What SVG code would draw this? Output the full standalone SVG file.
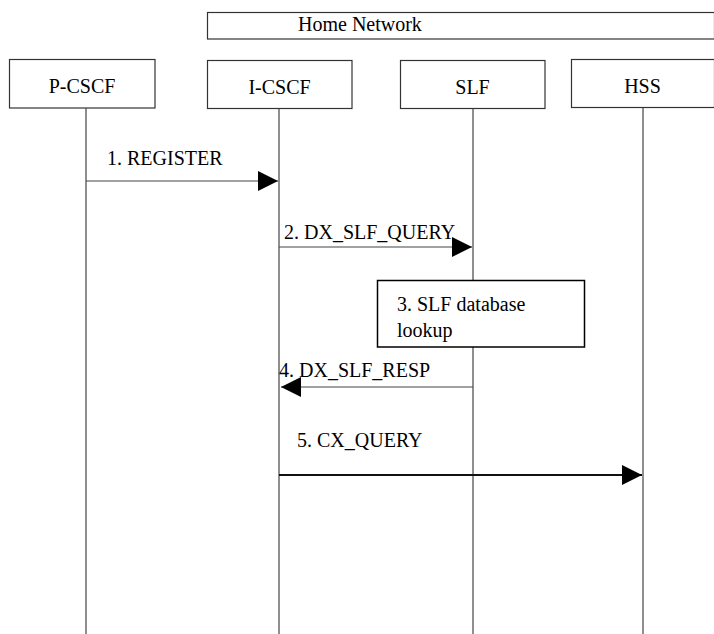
<svg xmlns="http://www.w3.org/2000/svg" width="714" height="634" viewBox="0 0 714 634">
<style>
.box{fill:#fff;stroke:#333;stroke-width:1.2}
.life{stroke:#444;stroke-width:1.2;fill:none}
.msg{stroke:#444;stroke-width:1.2;fill:none}
.msg2{stroke:#111;stroke-width:2;fill:none}
.t{font-family:'Liberation Serif','DejaVu Serif',serif;font-size:20px;fill:#000}
.c{text-anchor:middle}
</style>
<defs>
<marker id="ah" markerUnits="userSpaceOnUse" markerWidth="20" markerHeight="20" refX="20" refY="10" orient="auto">
<path d="M0,0 L20,10 L0,20 Z" fill="#000"/>
</marker>
</defs>
<rect width="714" height="634" fill="#fff"/>
<g id="home-network">
<rect class="box" x="207.5" y="12.5" width="507" height="26.5"/>
<text class="t" x="298" y="31">Home Network</text>
</g>
<g id="p-cscf">
<rect class="box" x="9.5" y="59.5" width="145.5" height="48.5"/>
<text class="t c" x="82" y="93">P-CSCF</text>
<line class="life" x1="86" y1="108" x2="86" y2="634"/>
</g>
<g id="i-cscf">
<rect class="box" x="207.5" y="60.5" width="144.5" height="48"/>
<text class="t c" x="279.5" y="94">I-CSCF</text>
<line class="life" x1="279" y1="109" x2="279" y2="634"/>
</g>
<g id="slf">
<rect class="box" x="400.5" y="60.5" width="144.5" height="48"/>
<text class="t c" x="472.5" y="94">SLF</text>
<line class="life" x1="473" y1="109" x2="473" y2="634"/>
</g>
<g id="hss">
<rect class="box" x="571.5" y="59.5" width="143" height="48"/>
<text class="t c" x="642.5" y="93">HSS</text>
<line class="life" x1="643" y1="108" x2="643" y2="634"/>
</g>
<g id="slf-lookup">
<rect class="box" x="377.5" y="280.5" width="207" height="66.5" style="stroke:#000;stroke-width:1.5"/>
<text class="t" x="397" y="311">3. SLF database</text>
<text class="t" x="397" y="337">lookup</text>
</g>
<g id="connectors">
<line class="msg" x1="86" y1="181" x2="278" y2="181" marker-end="url(#ah)"/>
<text class="t" x="107" y="165">1. REGISTER</text>
<line class="msg" x1="279" y1="247" x2="472" y2="247" marker-end="url(#ah)"/>
<text class="t" x="284" y="239">2. DX_SLF_QUERY</text>
<line class="msg" x1="473" y1="387" x2="281" y2="387" marker-end="url(#ah)"/>
<text class="t" x="279" y="377">4. DX_SLF_RESP</text>
<line class="msg2" x1="279" y1="475" x2="642" y2="475" marker-end="url(#ah)"/>
<text class="t" x="297" y="447">5. CX_QUERY</text>
</g>
</svg>
